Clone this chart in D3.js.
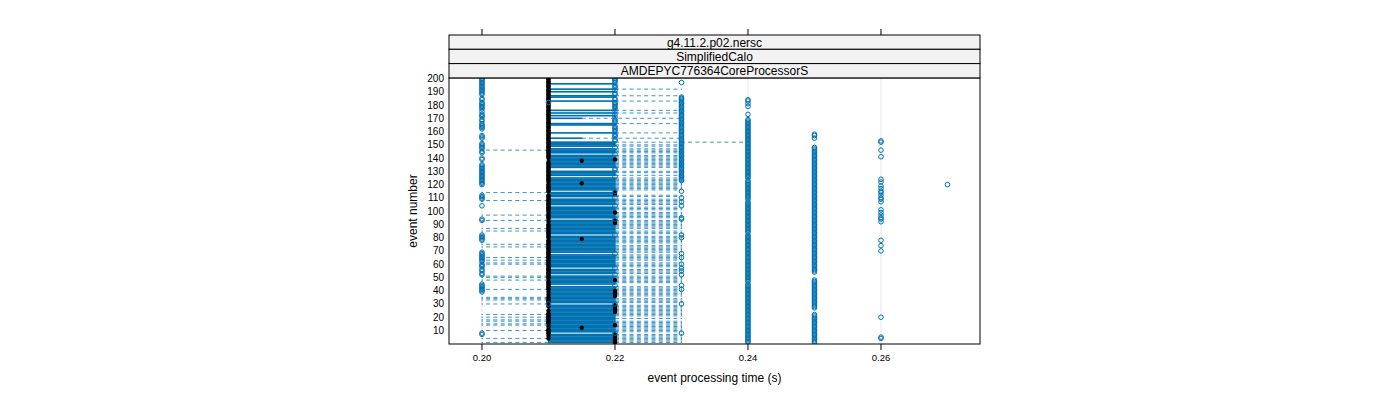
<!DOCTYPE html>
<html><head><meta charset="utf-8">
<script src="https://cdn.jsdelivr.net/npm/d3@7"></script>
<style>
body{margin:0;background:#fff}
text{font-family:"Liberation Sans",Arial,Helvetica,sans-serif;fill:#000}
</style>
</head><body>
<svg id="chart" width="1400" height="400"></svg>
<script>
// ---------------- data ----------------
const stripLabels = ["g4.11.2.p02.nersc", "SimplifiedCalo", "AMDEPYC776364CoreProcessorS"];
const xTicks = [0.20, 0.22, 0.24, 0.26];
const xTickLabels = ["0.20", "0.22", "0.24", "0.26"];
const yTicks = [10, 20, 30, 40, 50, 60, 70, 80, 90, 100, 110, 120, 130, 140, 150, 160, 170, 180, 190, 200];
const eventNumbers = d3.range(1, 201);

// per-event box statistics, milliseconds (event 1 .. 200)
const q1Ms = [
210,210,210,210,210,210,210,210,210,210,210,210,210,210,210,210,210,210,210,210,
210,210,210,210,210,210,210,210,210,210,210,210,210,210,210,210,210,210,210,210,
210,210,210,210,210,210,210,210,210,210,210,210,210,210,210,210,210,210,210,210,
210,210,210,210,210,210,210,210,210,210,210,210,210,210,210,210,210,210,210,210,
210,210,210,210,210,210,210,210,210,210,210,210,210,210,210,210,210,210,210,210,
210,210,210,210,210,210,210,210,210,210,210,210,210,210,210,210,210,210,210,210,
210,210,210,210,210,210,210,210,210,210,210,210,210,210,210,210,210,210,210,210,
210,210,210,210,210,210,210,210,210,210,210,210,210,210,210,210,210,210,210,210,
210,210,210,210,210,210,210,210,210,210,210,210,210,210,210,210,210,210,210,210,
210,210,210,210,210,210,210,210,210,210,210,210,210,210,210,210,210,210,210,210];
const q3Ms = [
220,220,220,220,220,220,220,210,220,220, 220,220,220,220,220,220,220,220,220,220,
220,220,220,220,220,220,220,220,220,210, 220,220,220,220,220,220,220,220,220,220,
220,220,220,210,220,220,220,220,220,220, 220,210,220,220,220,220,210,220,220,220,
220,220,220,220,220,220,220,210,220,220, 220,220,220,220,220,220,220,220,220,220,
220,210,220,220,220,220,220,220,220,220, 220,220,220,210,220,220,220,220,220,220,
220,220,220,210,220,220,220,220,220,210, 220,220,220,220,210,220,220,220,220,220,
220,220,220,220,220,210,220,220,220,220, 210,210,220,220,220,220,220,220,220,220,
220,220,210,220,220,220,220,210,220,220, 220,220,210,210,215,210,210,210,220,210,
210,210,210,210,220,220,210,210,210,215, 210,220,210,220,210,220,210,210,210,210,
210,210,220,210,210,220,220,210,210,220, 210,220,210,210,210,220,210,210,210,210];
const medianMs = [
220,220,220,210,220,210,220,210,210,210, 210,215,210,220,210,210,210,210,210,210,
210,210,210,220,210,220,220,210,220,210, 210,210,210,210,210,220,210,220,210,220,
210,210,210,210,210,210,210,220,210,210, 210,210,210,210,210,210,210,210,210,210,
210,210,210,210,210,210,210,210,210,210, 210,210,210,210,210,210,210,210,215,210,
210,210,210,210,210,210,210,210,210,210, 220,210,220,210,210,210,210,210,220,210,
210,210,210,210,210,210,210,210,210,210, 210,210,220,220,210,210,210,210,210,210,
215,210,210,210,210,210,210,210,210,210, 210,210,210,210,210,210,210,215,220,210,
210,210,210,210,210,210,210,210,210,210, 210,210,210,210,210,210,210,210,210,210,
210,210,210,210,210,210,210,210,210,210, 210,210,210,210,210,210,210,210,210,210,
210,210,210,210,210,210,210,210,210,210, 210,210,210,210,210,210,210,210,210,210];
const lowWhiskerMs = [
200,210,210,200,210,210,210,210,210,200, 210,210,210,200,200,210,200,200,210,200,
210,200,210,210,210,210,210,210,210,200, 210,210,200,200,200,210,210,210,210,210,
200,210,210,210,210,210,210,200,210,200, 200,210,210,210,210,210,210,210,210,200,
200,210,200,210,200,210,210,210,210,210, 210,210,200,210,200,210,210,210,210,210,
210,210,210,210,200,210,200,210,210,210, 210,210,200,210,210,210,200,210,210,210,
210,210,210,210,210,210,210,200,210,210, 210,210,210,200,210,210,210,210,210,210,
210,210,210,210,210,210,210,210,210,210, 210,210,210,210,210,210,210,210,210,210,
210,210,210,210,210,200,210,210,210,210, 210,210,210,210,210,210,210,210,210,210,
210,210,210,210,210,210,210,210,210,210, 210,210,210,210,210,210,210,210,210,210,
210,210,210,210,210,210,210,210,210,210, 210,210,210,210,210,210,210,210,210,210];
const highWhiskerMs = [
230,230,230,230,230,230,230,210,230,230, 230,230,230,230,230,230,230,220,230,220,
230,230,230,230,230,230,230,230,230,210, 230,230,230,230,220,230,230,230,230,230,
230,230,230,210,220,230,230,230,230,230, 230,210,230,230,230,230,210,230,230,230,
230,220,230,230,230,230,230,210,230,230, 230,230,230,230,220,230,230,230,230,230,
230,210,230,230,230,220,230,230,230,230, 230,230,230,210,230,230,230,230,230,220,
230,230,230,210,230,230,230,230,230,210, 230,230,220,220,210,230,230,230,230,230,
230,230,230,230,230,210,230,220,230,230, 210,210,230,230,230,230,230,230,230,230,
230,230,210,230,230,230,230,210,230,230, 220,240,210,210,230,210,210,210,230,210,
210,210,210,210,220,230,210,210,210,230, 210,220,210,230,210,230,210,210,210,210,
210,210,230,210,210,220,230,210,210,220, 210,230,210,210,210,220,210,210,210,210];

// outliers: runs of event numbers [first, last] having an outlying value at the given time (ms)
const out200Runs = [[7,8],[39,45],[52,53],[55,56],[58,60],[62,69],[78,82],[93,94],[104,104],[109,112],[120,135],[139,140],[144,145],[147,151],[155,157],[162,166],[168,169],[171,173],[175,175],[177,182],[184,185],[188,200]];
const out210Runs = [[30,30],[182,182]];
const out220Runs = [[8,8],[30,30],[44,44],[52,52],[57,57],[68,68],[82,82],[94,94],[104,104],[110,110],[115,115],[126,126],[131,132],[143,143],[148,148],[153,154],[156,158],[160,164],[167,169],[171,171],[173,173],[175,175],[177,182],[184,185],[188,189],[191,191],[193,195],[197,200]];
const out230Runs = [[8,8],[30,30],[41,41],[44,44],[52,52],[55,55],[57,57],[60,60],[65,65],[68,68],[80,80],[82,82],[94,95],[104,104],[107,107],[110,110],[115,115],[123,186],[197,197]];
const out240Runs = [[1,45],[47,82],[84,107],[109,123],[125,169],[173,173],[179,179],[181,181],[183,184]];
const out250Runs = [[1,22],[27,48],[54,148],[155,155],[157,158]];
const out260Runs = [[4,5],[20,20],[70,70],[74,74],[78,78],[92,92],[94,95],[97,97],[99,99],[101,101],[107,107],[109,110],[112,112],[114,115],[117,117],[119,119],[122,122],[124,124],[141,141],[146,146],[152,153]];
const out270Runs = [[120,120]];

// ---------------- layout ----------------
const BLUE = "#0072B2";
const panel = {left: 449, right: 980, top: 78, bottom: 344};
const stripTop = 35, stripH = 14.3;

const svg = d3.select("#chart");
const x = d3.scaleLinear().domain([0.19504, 0.27489]).range([panel.left, panel.right]);
const y = d3.scaleLinear().domain([-0.2, 200.4]).range([panel.bottom, panel.top]);

const stats = eventNumbers.map((e, i) => ({
  e, q1: q1Ms[i] / 1000, q3: q3Ms[i] / 1000, med: medianMs[i] / 1000,
  lo: lowWhiskerMs[i] / 1000, hi: highWhiskerMs[i] / 1000
}));
const outSets = [[200,out200Runs],[210,out210Runs],[220,out220Runs],[230,out230Runs],
                 [240,out240Runs],[250,out250Runs],[260,out260Runs],[270,out270Runs]];
const outliers = [];
outSets.forEach(([ms, runs]) => runs.forEach(([a, b]) => {
  for (let e = a; e <= b; e++) outliers.push({e, v: ms / 1000});
}));

const g = svg.append("g");
svg.append("clipPath").attr("id", "pclip").append("rect")
  .attr("x", panel.left).attr("y", panel.top)
  .attr("width", panel.right - panel.left).attr("height", panel.bottom - panel.top);
const pg = g.append("g").attr("clip-path", "url(#pclip)");

// reference lines
pg.selectAll("line.ref").data(xTicks).join("line")
  .attr("x1", d => x(d)).attr("x2", d => x(d))
  .attr("y1", panel.top).attr("y2", panel.bottom)
  .attr("stroke", "#e6e6e6").attr("stroke-width", 1);

const halfH = 0.25; // box half height in event units
// whiskers
const whiskers = [];
stats.forEach(s => {
  if (s.lo < s.q1) whiskers.push({e: s.e, a: s.q1, b: s.lo});
  if (s.hi > s.q3) whiskers.push({e: s.e, a: s.q3, b: s.hi});
});
pg.selectAll("line.wh").data(whiskers).join("line")
  .attr("x1", d => x(d.a)).attr("x2", d => x(d.b))
  .attr("y1", d => y(d.e)).attr("y2", d => y(d.e))
  .attr("stroke", BLUE).attr("stroke-width", 0.9).attr("stroke-opacity", 0.85)
  .attr("stroke-dasharray", "4,3.3");
// caps
const caps = [];
stats.forEach(s => { caps.push({e: s.e, v: s.lo}); caps.push({e: s.e, v: s.hi}); });
pg.selectAll("line.cap").data(caps).join("line")
  .attr("x1", d => x(d.v)).attr("x2", d => x(d.v))
  .attr("y1", d => y(d.e - halfH)).attr("y2", d => y(d.e + halfH))
  .attr("stroke", BLUE).attr("stroke-width", 1);
// boxes
pg.selectAll("rect.box").data(stats.filter(s => s.q3 > s.q1)).join("rect")
  .attr("x", d => x(d.q1)).attr("width", d => x(d.q3) - x(d.q1))
  .attr("y", d => y(d.e + halfH)).attr("height", d => y(d.e - halfH) - y(d.e + halfH))
  .attr("fill", "none").attr("stroke", BLUE).attr("stroke-width", 1);
// medians
pg.selectAll("circle.med").data(stats).join("circle")
  .attr("cx", d => x(d.med)).attr("cy", d => y(d.e)).attr("r", 2.2)
  .attr("fill", "#000");
// outliers
pg.selectAll("circle.out").data(outliers).join("circle")
  .attr("cx", d => x(d.v)).attr("cy", d => y(d.e)).attr("r", 2.3)
  .attr("fill", "none").attr("stroke", BLUE).attr("stroke-width", 1);

// panel border
g.append("rect").attr("x", panel.left).attr("y", panel.top)
  .attr("width", panel.right - panel.left).attr("height", panel.bottom - panel.top)
  .attr("fill", "none").attr("stroke", "#000").attr("stroke-width", 1);

// strips
stripLabels.forEach((lab, i) => {
  const top = stripTop + i * stripH;
  g.append("rect").attr("x", panel.left).attr("y", top)
    .attr("width", panel.right - panel.left).attr("height", stripH)
    .attr("fill", "#f2f2f2").attr("stroke", "#000").attr("stroke-width", 1);
  g.append("text").attr("x", (panel.left + panel.right) / 2).attr("y", top + stripH / 2 + 4.4)
    .attr("text-anchor", "middle").attr("font-size", 12).text(lab);
});

// x axis ticks (bottom with labels, top without)
g.selectAll("line.bt").data(xTicks).join("line")
  .attr("x1", d => x(d)).attr("x2", d => x(d))
  .attr("y1", panel.bottom).attr("y2", panel.bottom + 6)
  .attr("stroke", "#000");
g.selectAll("line.tt").data(xTicks).join("line")
  .attr("x1", d => x(d)).attr("x2", d => x(d))
  .attr("y1", 29).attr("y2", stripTop)
  .attr("stroke", "#000");
g.selectAll("text.xl").data(xTicks).join("text")
  .attr("x", d => x(d)).attr("y", 360.5)
  .attr("text-anchor", "middle").attr("font-size", 9.5)
  .text((d, i) => xTickLabels[i]);

// y axis labels
g.selectAll("text.yl").data(yTicks).join("text")
  .attr("x", 444).attr("y", d => y(d) + 3.5)
  .attr("text-anchor", "end").attr("font-size", 10)
  .text(d => d);

// axis titles
g.append("text").attr("x", (panel.left + panel.right) / 2).attr("y", 382)
  .attr("text-anchor", "middle").attr("font-size", 12).text("event processing time (s)");
g.append("text").attr("transform", `translate(417,${(panel.top + panel.bottom) / 2}) rotate(-90)`)
  .attr("text-anchor", "middle").attr("font-size", 12).text("event number");
</script>
</body></html>
